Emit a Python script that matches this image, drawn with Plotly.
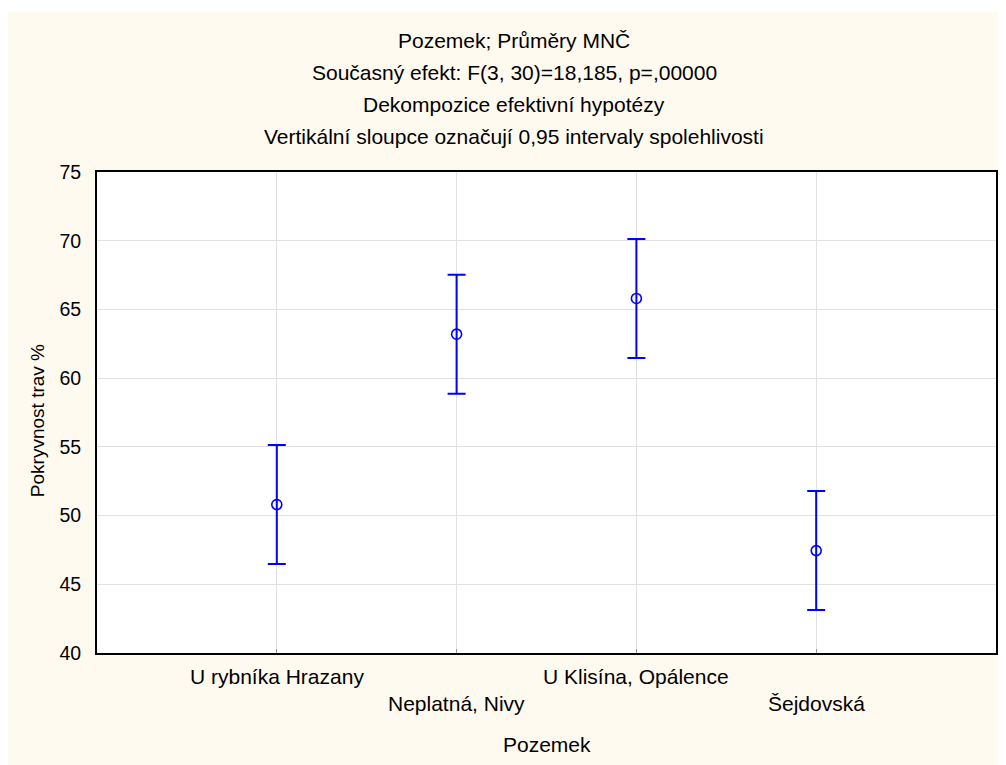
import plotly.graph_objects as go

categories = ["U rybníka Hrazany", "Neplatná, Nivy", "U Klisína, Opálence", "Šejdovská"]
means = [50.8, 63.2, 65.8, 47.45]
ci_half = [4.33, 4.33, 4.33, 4.33]
y_ticks = [40, 45, 50, 55, 60, 65, 70, 75]

title_lines = [
    "Pozemek; Průměry MNČ",
    "Současný efekt: F(3, 30)=18,185, p=,00000",
    "Dekompozice efektivní hypotézy",
    "Vertikální sloupce označují 0,95 intervaly spolehlivosti",
]
x_title = "Pozemek"
y_title = "Pokryvnost trav %"

# page has an 8px body margin, so the figure is sized to fit the window
W, H = 998, 757
ml, mr, mt, mb = 89, 8, 164, 112
pw = W - ml - mr
ph = H - mt - mb

def px_x(x):
    return (x - ml) / pw

def px_y(y):
    return (H - mb - y) / ph

FONT = "Arial, Liberation Sans, sans-serif"
BLUE = "#0000FF"
CREAM = "#FFFAEF"

fig = go.Figure()
fig.add_trace(go.Scatter(
    x=list(range(len(categories))),
    y=means,
    mode="markers",
    marker=dict(symbol="circle-open", size=10, color=BLUE, line=dict(width=1.6, color=BLUE)),
    error_y=dict(type="data", array=ci_half, visible=True, color=BLUE, thickness=2, width=9),
    showlegend=False,
    cliponaxis=False,
))

annotations = []
for i, line in enumerate(title_lines):
    annotations.append(dict(
        text=line, xref="paper", yref="paper", x=px_x(507), y=px_y(32 + i * 32.3),
        xanchor="center", yanchor="middle", showarrow=False,
        font=dict(family=FONT, size=21, color="black"),
    ))
for i, c in enumerate(categories):
    annotations.append(dict(
        text=c, xref="x", yref="paper", x=i, y=px_y(668 if i % 2 == 0 else 695),
        xanchor="center", yanchor="middle", showarrow=False,
        font=dict(family=FONT, size=21, color="black"),
    ))
annotations.append(dict(
    text=x_title, xref="paper", yref="paper", x=px_x(540), y=px_y(736),
    xanchor="center", yanchor="middle", showarrow=False,
    font=dict(family=FONT, size=21, color="black"),
))
annotations.append(dict(
    text=y_title, xref="paper", yref="paper", x=px_x(29), y=px_y(413),
    xanchor="center", yanchor="middle", showarrow=False, textangle=-90,
    font=dict(family=FONT, size=19, color="black"),
))

shapes = [
    dict(type="rect", xref="paper", yref="paper", x0=px_x(-5), x1=px_x(W + 5), y0=px_y(4), y1=px_y(-5),
         fillcolor="white", line=dict(width=0), layer="below"),
]

fig.update_layout(
    width=W, height=H,
    margin=dict(l=ml, r=mr, t=mt, b=mb),
    paper_bgcolor=CREAM,
    plot_bgcolor="white",
    font=dict(family=FONT, size=19, color="black"),
    annotations=annotations,
    shapes=shapes,
    xaxis=dict(
        range=[-1, len(categories)],
        tickvals=list(range(len(categories))),
        ticktext=[""] * len(categories),
        showgrid=True, gridcolor="#E1E1E1", gridwidth=1,
        showline=True, linecolor="black", linewidth=2, mirror=True,
        ticks="inside", ticklen=4, tickcolor="#999999",
        zeroline=False,
    ),
    yaxis=dict(
        range=[40, 75],
        tickvals=y_ticks,
        ticktext=[str(v) for v in y_ticks],
        showgrid=True, gridcolor="#E1E1E1", gridwidth=1,
        showline=True, linecolor="black", linewidth=2, mirror=True,
        ticks="", ticklabelstandoff=10,
        zeroline=False,
        tickfont=dict(family=FONT, size=19.5),
    ),
)

fig.write_html("out.html")
